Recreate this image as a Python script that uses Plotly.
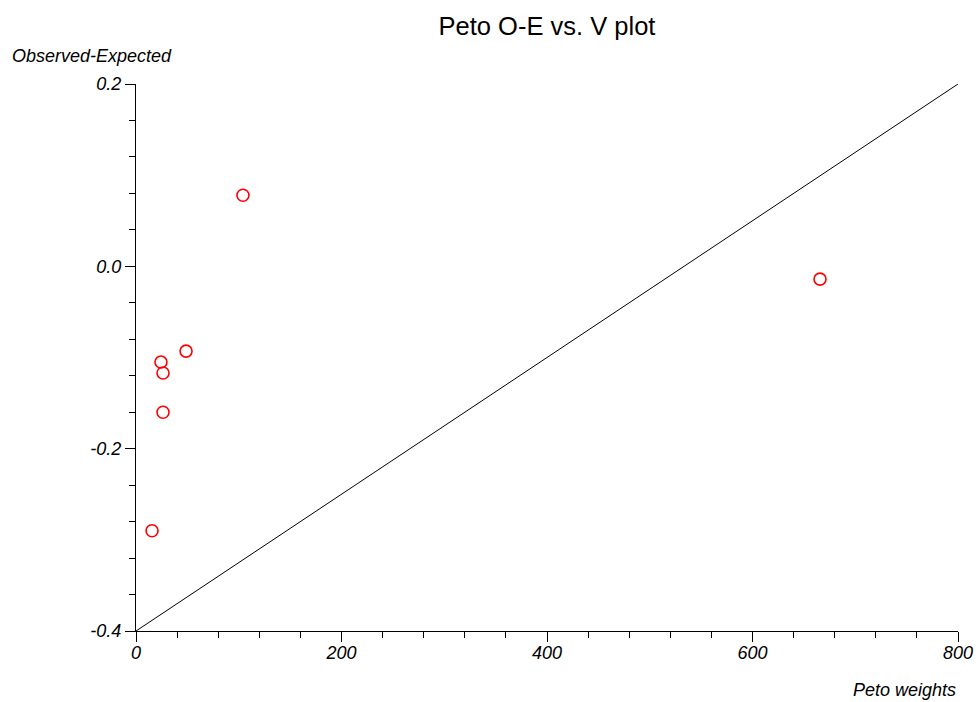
import plotly.graph_objects as go

# Data
peto_weights = [104.1, 665.7, 48.7, 24.3, 26.3, 26.3, 15.6]
observed_minus_expected = [0.078, -0.014, -0.093, -0.105, -0.117, -0.160, -0.290]

line_x = [0, 800]
line_y = [-0.4, 0.2]

x_tickvals = [0, 200, 400, 600, 800]
x_ticktext = ["0", "200", "400", "600", "800"]
y_tickvals = [0.2, 0.0, -0.2, -0.4]
y_ticktext = ["0.2", "0.0", "-0.2", "-0.4"]

FONT = "Liberation Sans, Arial, sans-serif"

fig = go.Figure()
fig.add_trace(go.Scatter(x=line_x, y=line_y, mode="lines",
                         line=dict(color="black", width=1), showlegend=False,
                         hoverinfo="skip"))
fig.add_trace(go.Scatter(x=peto_weights, y=observed_minus_expected, mode="markers",
                         marker=dict(symbol="circle-open", size=12, color="red",
                                     line=dict(width=1.6, color="red")),
                         showlegend=False, cliponaxis=False))

fig.update_layout(
    template="none",
    width=978, height=702, autosize=False,
    margin=dict(l=136, r=20, t=84, b=71),
    plot_bgcolor="white", paper_bgcolor="white",
    title=dict(text="Peto O-E vs. V plot", x=547/978, xanchor="center",
               y=1 - 26/702, yanchor="middle",
               font=dict(family=FONT, size=25.5, color="black")),
    font=dict(family=FONT, color="black"),
    xaxis=dict(range=[0, 800], automargin=False, showgrid=False, zeroline=False,
               showline=True, linecolor="black", linewidth=1, ticks="outside",
               ticklen=10, tickcolor="black", tickwidth=1, ticklabelstandoff=-5,
               tickvals=x_tickvals, ticktext=x_ticktext,
               tickfont=dict(family=FONT, size=18, style="italic", color="black"),
               minor=dict(dtick=40, ticks="outside", ticklen=6, tickcolor="black",
                          tickwidth=1, showgrid=False)),
    yaxis=dict(range=[-0.4, 0.2], automargin=False, showgrid=False, zeroline=False,
               showline=True, linecolor="black", linewidth=1, ticks="outside",
               ticklen=10, tickcolor="black", tickwidth=1,
               tickvals=y_tickvals, ticktext=y_ticktext,
               tickfont=dict(family=FONT, size=18, style="italic", color="black"),
               minor=dict(dtick=0.04, tick0=0.2, ticks="outside", ticklen=6,
                          tickcolor="black", tickwidth=1, showgrid=False)),
    annotations=[
        dict(text="Observed-Expected", xref="paper", yref="paper", x=(10 - 136) / 822,
             y=1 + 28 / 547, xanchor="left", yanchor="middle", showarrow=False,
             font=dict(family=FONT, size=18, style="italic", color="black")),
        dict(text="Peto weights", xref="paper", yref="paper", x=1, y=-59 / 547,
             xanchor="right", yanchor="middle", showarrow=False,
             font=dict(family=FONT, size=18, style="italic", color="black")),
    ],
)

post = (
    "document.body.style.margin='0';"
    "document.body.style.overflow='hidden';"
    "document.documentElement.style.overflow='hidden';"
)

fig.write_html("out.html", config={"displayModeBar": False},
               post_script=post)
